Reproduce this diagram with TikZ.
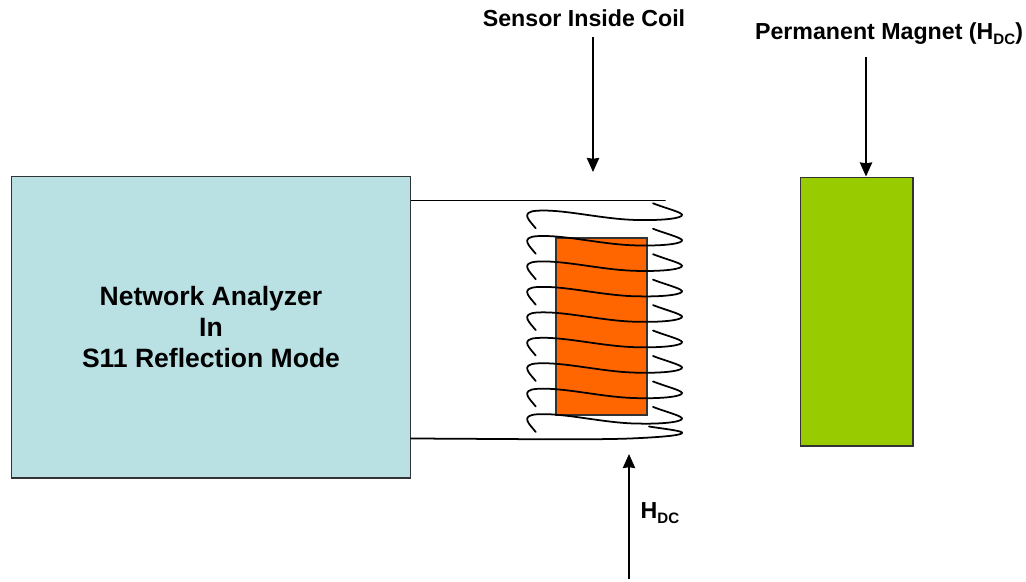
\documentclass[tikz,border=0pt]{standalone}
\usepackage{fontspec}
\setmainfont{Liberation Sans}
\usetikzlibrary{arrows.meta}

\definecolor{analyzerblue}{HTML}{B9E0E3}
\definecolor{sensororange}{HTML}{FF6600}
\definecolor{magnetgreen}{HTML}{99CC00}

\newcommand{\hdclabel}{H\raisebox{-0.38ex}{\fontsize{8.6}{10}\selectfont DC}}

\tikzset{
    block/.style={draw=black!80, line width=0.6pt, minimum width=0pt, inner sep=0pt},
    tag/.style={font=\bfseries\fontsize{13.2}{16}\selectfont, inner sep=0pt, align=center},
    wire/.style={line width=1pt, line cap=round},
    pointer/.style={-{Stealth[length=8pt, width=7pt, inset=0.5pt]}, line width=1.1pt}
}

\begin{document}
\begin{tikzpicture}[x=0.02cm, y=-0.02cm]
    \useasboundingbox (0, 0) rectangle (1026, 581);

    % analyzer, sensor, magnet
    \fill[analyzerblue] (11, 176) rectangle (411, 478);
    \node[block, minimum width=8cm, minimum height=6.04cm] (analyzer) at (211, 327) {};
    \node[tag, font=\bfseries\fontsize{15.1}{17.6}\selectfont] (analyzertext) at (211, 327) {Network Analyzer\\In\\S11 Reflection Mode};
    \fill[sensororange] (556, 238) rectangle (647, 415);
    \node[block, minimum width=1.82cm, minimum height=3.54cm] (sensor) at (601.5, 326.5) {};
    \fill[magnetgreen] (800, 177) rectangle (913, 446);
    \node[block, minimum width=2.26cm, minimum height=5.38cm] (magnet) at (856.5, 311.5) {};

    % leads
    \coordinate (leadtop) at (665, 200.5);
    \draw[wire] (analyzer.east |- leadtop) -- (leadtop);
    \coordinate (leadbottom) at (411, 438.5);
    \draw[wire] (leadbottom) .. controls (520, 439) and (590, 440) .. (630, 438.5)
        .. controls (665, 437) and (684, 435) .. (682, 432.5)
        .. controls (680, 430.5) and (665, 429) .. (649, 426.5);

    % coil turns
    \foreach \k in {0, 1, ..., 8} {
        \begin{scope}[yshift=-\k*25.45*0.02cm]
            \draw[wire] (535.7, 228.3) .. controls (530, 221) and (519, 212) .. (537, 210.7)
                .. controls (565, 209) and (605, 220) .. (640, 220)
                .. controls (665, 220.5) and (683, 218) .. (682, 214.7)
                .. controls (681, 212) and (665, 208) .. (653, 203.3);
        \end{scope}
    }

    % labels and arrows
    \node[tag] (sensortext) at (584, 18) {Sensor Inside Coil};
    \coordinate (sensortail) at (593, 37);
    \coordinate (sensorhead) at (593, 172);
    \draw[pointer] (sensortail) -- (sensorhead);

    \node[tag] (magnettext) at (889, 33.5) {Permanent Magnet (\hdclabel)};
    \coordinate (magnettail) at (866, 57);
    \draw[pointer] (magnettail) -- (magnettail |- magnet.north);

    \node[tag] (fieldtext) at (660, 513) {\hdclabel};
    \coordinate (fieldtail) at (629, 579);
    \coordinate (fieldhead) at (629, 454);
    \draw[pointer] (fieldtail) -- (fieldhead);
\end{tikzpicture}
\end{document}
